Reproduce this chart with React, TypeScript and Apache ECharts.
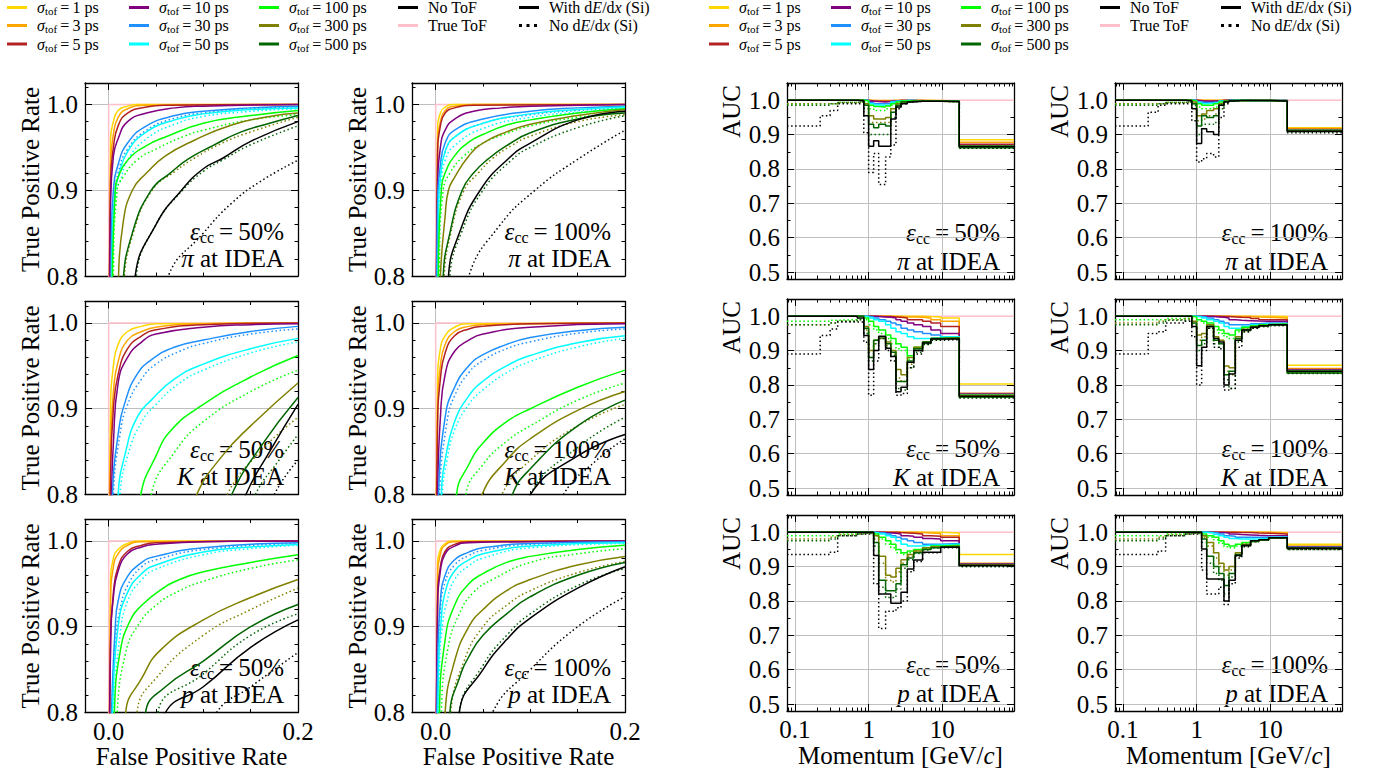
import React, { useEffect, useRef } from "react";
import * as echarts from "echarts";

const FONT = "'Liberation Serif', 'Times New Roman', Times, serif";
const INK = "#000000";
const GRID_GRAY = "#b8b8b8";
const THIN = "\u2009";

const SIGMA_LABELS = ["1", "3", "5", "10", "30", "50", "100", "300", "500"];
const SIGMA_COLORS = ["#FFD700", "#FFA500", "#B22222", "#800080", "#1E90FF", "#00FFFF", "#00FF00", "#808000", "#006400"];
const NO_TOF_COLOR = "#000000";
const TRUE_TOF_COLOR = "#FFC0CB";
const CURVE_COLORS = [...SIGMA_COLORS, NO_TOF_COLOR];
const CURVE_NAMES = [...SIGMA_LABELS.map((s) => "σtof = " + s + " ps"), "No ToF"];

// indices (into CURVE_COLORS) of the "No dE/dx" dotted curves
const ROC_DOTTED_IDX = [4, 5, 6, 7, 8, 9];
const AUC_DOTTED_IDX = [6, 7, 8, 9];

// ---------------- ROC curves: [FPR, TPR] ----------------
const ROC_TRUE_TOF = [[0, 0.6], [0, 1.0], [0.2, 1.0]];

const ROC_PI_50 = [
  [[0, 0.6], [0.002, 0.96], [0.005, 0.98], [0.01, 0.993], [0.02, 0.998], [0.03, 1.0], [0.2, 1.0]],
  [[0, 0.6], [0.002, 0.93], [0.005, 0.965], [0.01, 0.985], [0.02, 0.995], [0.04, 0.999], [0.2, 1.0]],
  [[0, 0.6], [0.002, 0.91], [0.005, 0.95], [0.01, 0.975], [0.02, 0.99], [0.04, 0.997], [0.06, 0.999], [0.2, 1.0]],
  [[0, 0.55], [0.002, 0.88], [0.005, 0.94], [0.01, 0.96], [0.02, 0.98], [0.04, 0.99], [0.07, 0.996], [0.1, 0.998], [0.2, 1.0]],
  [[0.001, 0.6], [0.003, 0.85], [0.005, 0.9], [0.01, 0.93], [0.02, 0.955], [0.04, 0.975], [0.07, 0.987], [0.1, 0.992], [0.15, 0.996], [0.2, 0.998]],
  [[0.002, 0.6], [0.004, 0.85], [0.007, 0.9], [0.01, 0.915], [0.02, 0.945], [0.04, 0.968], [0.07, 0.982], [0.1, 0.989], [0.15, 0.994], [0.2, 0.996]],
  [[0.003, 0.6], [0.004, 0.8], [0.007, 0.9], [0.01, 0.915], [0.02, 0.935], [0.04, 0.952], [0.06, 0.962], [0.1, 0.978], [0.15, 0.987], [0.2, 0.993]],
  [[0.008, 0.7], [0.01, 0.79], [0.015, 0.86], [0.025, 0.9], [0.04, 0.92], [0.06, 0.94], [0.09, 0.958], [0.13, 0.976], [0.17, 0.986], [0.2, 0.99]],
  [[0.012, 0.7], [0.015, 0.79], [0.025, 0.85], [0.045, 0.9], [0.065, 0.92], [0.085, 0.937], [0.11, 0.952], [0.14, 0.968], [0.17, 0.978], [0.2, 0.987]],
  [[0.022, 0.7], [0.028, 0.8], [0.05, 0.86], [0.077, 0.9], [0.1, 0.925], [0.12, 0.937], [0.15, 0.957], [0.2, 0.98]],
];
const ROC_PI_50_NODEDX = [
  [[0.001, 0.6], [0.003, 0.83], [0.006, 0.89], [0.01, 0.92], [0.02, 0.948], [0.04, 0.97], [0.07, 0.984], [0.1, 0.99], [0.15, 0.995], [0.2, 0.997]],
  [[0.002, 0.6], [0.005, 0.85], [0.008, 0.9], [0.012, 0.91], [0.02, 0.935], [0.04, 0.96], [0.07, 0.977], [0.1, 0.986], [0.15, 0.992], [0.2, 0.995]],
  [[0.004, 0.6], [0.005, 0.8], [0.009, 0.9], [0.015, 0.915], [0.03, 0.935], [0.05, 0.948], [0.08, 0.963], [0.1, 0.97], [0.15, 0.982], [0.2, 0.988]],
  [[0.013, 0.7], [0.016, 0.79], [0.026, 0.85], [0.046, 0.9], [0.07, 0.922], [0.09, 0.937], [0.12, 0.955], [0.15, 0.968], [0.2, 0.985]],
  [[0.023, 0.7], [0.029, 0.8], [0.05, 0.86], [0.078, 0.9], [0.1, 0.922], [0.12, 0.935], [0.15, 0.953], [0.2, 0.975]],
  [[0.055, 0.75], [0.063, 0.8], [0.1, 0.85], [0.13, 0.885], [0.16, 0.91], [0.2, 0.935]],
];

const ROC_PI_100 = [
  [[0, 0.6], [0.002, 0.97], [0.005, 0.99], [0.01, 0.997], [0.02, 1.0], [0.2, 1.0]],
  [[0, 0.6], [0.002, 0.95], [0.005, 0.98], [0.01, 0.993], [0.02, 0.998], [0.04, 1.0], [0.2, 1.0]],
  [[0, 0.6], [0.002, 0.94], [0.005, 0.975], [0.01, 0.99], [0.02, 0.996], [0.04, 0.999], [0.2, 1.0]],
  [[0, 0.6], [0.002, 0.9], [0.005, 0.95], [0.01, 0.97], [0.02, 0.983], [0.04, 0.992], [0.07, 0.996], [0.1, 0.998], [0.2, 1.0]],
  [[0, 0.6], [0.002, 0.88], [0.005, 0.93], [0.01, 0.955], [0.02, 0.97], [0.05, 0.983], [0.1, 0.992], [0.15, 0.996], [0.2, 0.998]],
  [[0.001, 0.6], [0.003, 0.88], [0.005, 0.915], [0.01, 0.945], [0.02, 0.962], [0.05, 0.978], [0.1, 0.989], [0.15, 0.994], [0.2, 0.997]],
  [[0.002, 0.6], [0.003, 0.82], [0.006, 0.9], [0.01, 0.92], [0.02, 0.94], [0.035, 0.956], [0.05, 0.965], [0.075, 0.976], [0.1, 0.982], [0.15, 0.99], [0.2, 0.995]],
  [[0.003, 0.7], [0.005, 0.8], [0.01, 0.87], [0.0135, 0.9], [0.02, 0.915], [0.035, 0.94], [0.05, 0.955], [0.075, 0.968], [0.1, 0.977], [0.15, 0.987], [0.2, 0.994]],
  [[0.006, 0.7], [0.008, 0.8], [0.015, 0.85], [0.028, 0.9], [0.04, 0.92], [0.056, 0.937], [0.075, 0.952], [0.1, 0.967], [0.15, 0.983], [0.2, 0.99]],
  [[0.01, 0.7], [0.0135, 0.8], [0.025, 0.85], [0.047, 0.9], [0.077, 0.937], [0.1, 0.955], [0.15, 0.982], [0.2, 0.992]],
];
const ROC_PI_100_NODEDX = [
  [[0, 0.6], [0.002, 0.86], [0.005, 0.92], [0.01, 0.945], [0.02, 0.962], [0.05, 0.978], [0.1, 0.988], [0.15, 0.993], [0.2, 0.996]],
  [[0.001, 0.6], [0.003, 0.86], [0.006, 0.91], [0.01, 0.935], [0.02, 0.952], [0.05, 0.972], [0.1, 0.985], [0.15, 0.991], [0.2, 0.995]],
  [[0.002, 0.6], [0.004, 0.82], [0.008, 0.9], [0.015, 0.92], [0.03, 0.94], [0.05, 0.955], [0.075, 0.966], [0.1, 0.975], [0.15, 0.985], [0.2, 0.99]],
  [[0.006, 0.7], [0.009, 0.8], [0.016, 0.85], [0.03, 0.9], [0.045, 0.92], [0.06, 0.937], [0.08, 0.952], [0.1, 0.963], [0.15, 0.98], [0.2, 0.988]],
  [[0.011, 0.7], [0.015, 0.8], [0.027, 0.85], [0.05, 0.9], [0.08, 0.935], [0.1, 0.95], [0.15, 0.973], [0.2, 0.987]],
  [[0.028, 0.75], [0.035, 0.8], [0.067, 0.858], [0.105, 0.9], [0.15, 0.936], [0.2, 0.97]],
];

const ROC_K_50 = [
  [[0, 0.6], [0.002, 0.9], [0.005, 0.95], [0.01, 0.975], [0.02, 0.99], [0.035, 0.996], [0.05, 0.999], [0.2, 1.0]],
  [[0, 0.6], [0.002, 0.85], [0.005, 0.92], [0.01, 0.955], [0.02, 0.98], [0.035, 0.99], [0.05, 0.995], [0.1, 0.999], [0.2, 1.0]],
  [[0, 0.6], [0.002, 0.82], [0.005, 0.9], [0.01, 0.94], [0.02, 0.97], [0.035, 0.985], [0.05, 0.992], [0.1, 0.998], [0.2, 1.0]],
  [[0, 0.6], [0.003, 0.8], [0.005, 0.86], [0.01, 0.93], [0.02, 0.96], [0.035, 0.978], [0.05, 0.987], [0.1, 0.995], [0.15, 0.998], [0.2, 0.999]],
  [[0.002, 0.7], [0.004, 0.8], [0.01, 0.87], [0.018, 0.91], [0.03, 0.94], [0.045, 0.957], [0.07, 0.972], [0.1, 0.98], [0.15, 0.99], [0.2, 0.996]],
  [[0.007, 0.7], [0.01, 0.8], [0.018, 0.85], [0.03, 0.89], [0.045, 0.91], [0.07, 0.935], [0.1, 0.952], [0.15, 0.97], [0.2, 0.982]],
  [[0.025, 0.7], [0.034, 0.8], [0.05, 0.845], [0.066, 0.875], [0.1, 0.905], [0.15, 0.937], [0.2, 0.962]],
  [[0.08, 0.75], [0.093, 0.8], [0.12, 0.845], [0.15, 0.88], [0.2, 0.93]],
  [[0.115, 0.75], [0.13, 0.8], [0.16, 0.855], [0.2, 0.913]],
  [[0.13, 0.75], [0.145, 0.8], [0.17, 0.85], [0.2, 0.905]],
];
const ROC_K_50_NODEDX = [
  [[0.003, 0.7], [0.005, 0.8], [0.012, 0.87], [0.02, 0.905], [0.035, 0.935], [0.05, 0.952], [0.075, 0.967], [0.1, 0.976], [0.15, 0.987], [0.2, 0.993]],
  [[0.008, 0.7], [0.012, 0.8], [0.02, 0.845], [0.035, 0.885], [0.05, 0.905], [0.075, 0.93], [0.1, 0.945], [0.15, 0.965], [0.2, 0.978]],
  [[0.035, 0.7], [0.045, 0.8], [0.07, 0.85], [0.1, 0.885], [0.15, 0.92], [0.2, 0.945]],
  [[0.11, 0.75], [0.125, 0.8], [0.16, 0.85], [0.2, 0.89]],
  [[0.14, 0.75], [0.155, 0.8], [0.18, 0.84], [0.2, 0.87]],
  [[0.16, 0.75], [0.175, 0.8], [0.2, 0.84]],
];

const ROC_K_100 = [
  [[0, 0.6], [0.002, 0.93], [0.005, 0.97], [0.01, 0.985], [0.02, 0.995], [0.035, 0.999], [0.2, 1.0]],
  [[0, 0.6], [0.002, 0.9], [0.005, 0.95], [0.01, 0.975], [0.02, 0.99], [0.035, 0.996], [0.05, 0.998], [0.2, 1.0]],
  [[0, 0.6], [0.002, 0.88], [0.005, 0.935], [0.01, 0.965], [0.02, 0.985], [0.035, 0.993], [0.05, 0.996], [0.1, 0.999], [0.2, 1.0]],
  [[0, 0.6], [0.002, 0.8], [0.005, 0.89], [0.01, 0.94], [0.02, 0.967], [0.035, 0.98], [0.05, 0.987], [0.1, 0.995], [0.2, 0.999]],
  [[0.001, 0.7], [0.003, 0.8], [0.01, 0.89], [0.02, 0.925], [0.035, 0.95], [0.05, 0.963], [0.075, 0.975], [0.1, 0.983], [0.15, 0.991], [0.2, 0.995]],
  [[0.004, 0.7], [0.006, 0.8], [0.01, 0.84], [0.02, 0.885], [0.035, 0.915], [0.05, 0.932], [0.075, 0.95], [0.1, 0.962], [0.15, 0.977], [0.2, 0.985]],
  [[0.017, 0.7], [0.022, 0.8], [0.035, 0.835], [0.05, 0.86], [0.075, 0.885], [0.1, 0.9], [0.15, 0.925], [0.2, 0.945]],
  [[0.04, 0.75], [0.049, 0.8], [0.075, 0.84], [0.1, 0.865], [0.15, 0.898], [0.2, 0.92]],
  [[0.07, 0.75], [0.081, 0.8], [0.1, 0.83], [0.15, 0.88], [0.2, 0.91]],
  [[0.088, 0.75], [0.1, 0.8], [0.15, 0.845], [0.2, 0.87]],
];
const ROC_K_100_NODEDX = [
  [[0.002, 0.7], [0.004, 0.8], [0.012, 0.885], [0.02, 0.915], [0.035, 0.942], [0.05, 0.956], [0.075, 0.97], [0.1, 0.978], [0.15, 0.988], [0.2, 0.993]],
  [[0.005, 0.7], [0.007, 0.8], [0.012, 0.84], [0.02, 0.875], [0.035, 0.905], [0.05, 0.922], [0.075, 0.942], [0.1, 0.955], [0.15, 0.972], [0.2, 0.982]],
  [[0.025, 0.7], [0.032, 0.8], [0.05, 0.835], [0.075, 0.862], [0.1, 0.88], [0.15, 0.91], [0.2, 0.93]],
  [[0.06, 0.75], [0.07, 0.8], [0.1, 0.84], [0.15, 0.88], [0.2, 0.905]],
  [[0.09, 0.75], [0.1, 0.8], [0.15, 0.855], [0.2, 0.89]],
  [[0.12, 0.75], [0.135, 0.8], [0.17, 0.84], [0.2, 0.865]],
];

const ROC_P_50 = [
  [[0, 0.6], [0.002, 0.95], [0.005, 0.98], [0.01, 0.99], [0.02, 0.997], [0.035, 1.0], [0.2, 1.0]],
  [[0, 0.6], [0.002, 0.93], [0.005, 0.97], [0.01, 0.985], [0.02, 0.995], [0.035, 0.999], [0.2, 1.0]],
  [[0, 0.6], [0.002, 0.88], [0.005, 0.94], [0.01, 0.97], [0.02, 0.988], [0.035, 0.995], [0.05, 0.998], [0.2, 1.0]],
  [[0, 0.6], [0.002, 0.88], [0.005, 0.935], [0.01, 0.965], [0.02, 0.985], [0.035, 0.993], [0.05, 0.996], [0.1, 0.999], [0.2, 1.0]],
  [[0.001, 0.7], [0.003, 0.8], [0.007, 0.9], [0.01, 0.93], [0.018, 0.955], [0.035, 0.975], [0.05, 0.982], [0.1, 0.992], [0.2, 0.998]],
  [[0.002, 0.7], [0.004, 0.8], [0.01, 0.9], [0.02, 0.94], [0.035, 0.962], [0.05, 0.972], [0.1, 0.987], [0.15, 0.993], [0.2, 0.996]],
  [[0.004, 0.7], [0.006, 0.8], [0.012, 0.87], [0.023, 0.908], [0.035, 0.925], [0.055, 0.943], [0.075, 0.955], [0.1, 0.964], [0.15, 0.975], [0.2, 0.984]],
  [[0.014, 0.7], [0.018, 0.8], [0.035, 0.84], [0.055, 0.873], [0.1, 0.908], [0.15, 0.934], [0.2, 0.955]],
  [[0.033, 0.7], [0.039, 0.8], [0.06, 0.83], [0.1, 0.86], [0.15, 0.9], [0.2, 0.926]],
  [[0.05, 0.75], [0.06, 0.8], [0.1, 0.83], [0.15, 0.876], [0.2, 0.908]],
];
const ROC_P_50_NODEDX = [
  [[0.001, 0.7], [0.003, 0.8], [0.008, 0.89], [0.012, 0.92], [0.02, 0.948], [0.035, 0.97], [0.05, 0.978], [0.1, 0.99], [0.2, 0.997]],
  [[0.002, 0.7], [0.005, 0.8], [0.012, 0.89], [0.02, 0.93], [0.035, 0.955], [0.05, 0.967], [0.1, 0.984], [0.15, 0.991], [0.2, 0.995]],
  [[0.006, 0.7], [0.009, 0.8], [0.018, 0.87], [0.03, 0.9], [0.05, 0.925], [0.075, 0.942], [0.1, 0.953], [0.15, 0.968], [0.2, 0.978]],
  [[0.025, 0.7], [0.03, 0.8], [0.05, 0.84], [0.1, 0.89], [0.15, 0.92], [0.2, 0.945]],
  [[0.045, 0.7], [0.052, 0.8], [0.1, 0.845], [0.15, 0.89], [0.2, 0.915]],
  [[0.1, 0.75], [0.114, 0.8], [0.15, 0.83], [0.2, 0.87]],
];

const ROC_P_100 = [
  [[0, 0.6], [0.002, 0.97], [0.005, 0.99], [0.01, 0.997], [0.02, 1.0], [0.2, 1.0]],
  [[0, 0.6], [0.002, 0.955], [0.005, 0.985], [0.01, 0.995], [0.02, 0.999], [0.2, 1.0]],
  [[0, 0.6], [0.002, 0.93], [0.005, 0.97], [0.01, 0.988], [0.02, 0.996], [0.035, 0.999], [0.2, 1.0]],
  [[0, 0.6], [0.002, 0.92], [0.005, 0.965], [0.01, 0.985], [0.02, 0.994], [0.035, 0.998], [0.2, 1.0]],
  [[0, 0.6], [0.002, 0.85], [0.005, 0.93], [0.01, 0.96], [0.02, 0.978], [0.035, 0.987], [0.05, 0.992], [0.1, 0.997], [0.2, 0.999]],
  [[0.001, 0.6], [0.003, 0.85], [0.006, 0.91], [0.01, 0.94], [0.02, 0.965], [0.035, 0.978], [0.05, 0.985], [0.1, 0.994], [0.2, 0.998]],
  [[0.002, 0.6], [0.004, 0.8], [0.01, 0.885], [0.02, 0.925], [0.035, 0.95], [0.05, 0.962], [0.075, 0.975], [0.1, 0.982], [0.15, 0.99], [0.2, 0.995]],
  [[0.007, 0.7], [0.01, 0.8], [0.02, 0.86], [0.035, 0.9], [0.05, 0.92], [0.075, 0.942], [0.1, 0.955], [0.15, 0.972], [0.2, 0.982]],
  [[0.012, 0.7], [0.015, 0.8], [0.025, 0.84], [0.035, 0.865], [0.05, 0.89], [0.075, 0.915], [0.1, 0.935], [0.15, 0.96], [0.2, 0.975]],
  [[0.02, 0.7], [0.025, 0.8], [0.05, 0.85], [0.075, 0.885], [0.1, 0.91], [0.15, 0.945], [0.2, 0.97]],
];
const ROC_P_100_NODEDX = [
  [[0, 0.6], [0.002, 0.83], [0.005, 0.92], [0.01, 0.952], [0.02, 0.972], [0.035, 0.983], [0.05, 0.989], [0.1, 0.996], [0.2, 0.999]],
  [[0.001, 0.6], [0.004, 0.85], [0.007, 0.9], [0.012, 0.93], [0.02, 0.955], [0.035, 0.971], [0.05, 0.98], [0.1, 0.992], [0.2, 0.997]],
  [[0.003, 0.6], [0.006, 0.8], [0.013, 0.875], [0.025, 0.915], [0.04, 0.94], [0.06, 0.955], [0.1, 0.975], [0.15, 0.985], [0.2, 0.991]],
  [[0.012, 0.7], [0.016, 0.8], [0.03, 0.86], [0.05, 0.9], [0.075, 0.925], [0.1, 0.942], [0.15, 0.963], [0.2, 0.976]],
  [[0.02, 0.7], [0.025, 0.8], [0.05, 0.855], [0.075, 0.89], [0.1, 0.915], [0.15, 0.948], [0.2, 0.968]],
  [[0.05, 0.75], [0.06, 0.8], [0.1, 0.85], [0.15, 0.9], [0.2, 0.935]],
];

// ---------------- AUC vs momentum (bin edges in GeV/c) ----------------
const MOMENTUM_EDGES = [0.078, 0.22, 0.3, 0.38, 0.7, 0.86, 1.0, 1.17, 1.37, 1.7, 2.0, 2.35, 2.75, 3.35, 4.1, 5.4, 7.0, 9.5, 17, 94];
const AUC_TRUE_TOF = [1, 1, 1, 1, 1, 1, 1, 1, 1, 1, 1, 1, 1, 1, 1, 1, 1, 1, 1];

const AUC_PI_50 = [
  [1, 1, 1, 1, 1, 1, 0.999, 0.999, 0.999, 0.999, 0.999, 0.999, 0.999, 0.999, 0.999, 0.999, 0.999, 0.998, 0.885],
  [1, 1, 1, 1, 1, 1, 0.999, 0.998, 0.998, 0.998, 0.999, 0.999, 0.999, 0.999, 0.999, 0.999, 0.998, 0.997, 0.878],
  [1, 1, 1, 1, 1, 1, 0.998, 0.997, 0.997, 0.997, 0.998, 0.999, 0.999, 0.999, 0.999, 0.998, 0.998, 0.997, 0.872],
  [1, 1, 1, 1, 1, 1, 0.997, 0.996, 0.995, 0.996, 0.998, 0.999, 0.999, 0.999, 0.998, 0.998, 0.998, 0.997, 0.868],
  [1, 1, 1, 1, 1, 1, 0.993, 0.99, 0.99, 0.991, 0.996, 0.998, 0.999, 0.999, 0.998, 0.998, 0.998, 0.997, 0.867],
  [1, 1, 1, 1, 1, 0.999, 0.99, 0.986, 0.985, 0.987, 0.994, 0.997, 0.999, 0.999, 0.998, 0.998, 0.997, 0.997, 0.866],
  [1, 1, 1, 1, 1, 0.998, 0.985, 0.982, 0.98, 0.983, 0.99, 0.995, 0.998, 0.998, 0.998, 0.998, 0.997, 0.997, 0.866],
  [1, 1, 1, 1, 1, 0.99, 0.955, 0.945, 0.945, 0.95, 0.975, 0.99, 0.995, 0.997, 0.997, 0.997, 0.997, 0.996, 0.866],
  [1, 1, 1, 1, 1, 0.985, 0.93, 0.92, 0.93, 0.925, 0.965, 0.985, 0.995, 0.997, 0.997, 0.997, 0.997, 0.996, 0.862],
  [1, 1, 1, 1, 0.998, 0.955, 0.866, 0.882, 0.866, 0.866, 0.945, 0.98, 0.99, 0.995, 0.997, 0.997, 0.997, 0.996, 0.865],
];
const AUC_PI_50_NODEDX = [
  [0.99, 0.99, 0.99, 0.993, 0.995, 0.995, 0.975, 0.97, 0.97, 0.975, 0.985, 0.993, 0.997, 0.998, 0.997, 0.997, 0.997, 0.996, 0.865],
  [0.99, 0.99, 0.99, 0.993, 0.995, 0.985, 0.935, 0.935, 0.935, 0.935, 0.965, 0.985, 0.995, 0.997, 0.997, 0.997, 0.997, 0.996, 0.865],
  [0.985, 0.985, 0.99, 0.993, 0.995, 0.975, 0.9, 0.9, 0.9, 0.9, 0.95, 0.98, 0.993, 0.997, 0.997, 0.997, 0.997, 0.996, 0.862],
  [0.925, 0.955, 0.97, 0.99, 0.99, 0.905, 0.79, 0.845, 0.755, 0.835, 0.87, 0.975, 0.99, 0.995, 0.997, 0.997, 0.997, 0.996, 0.86],
];

const AUC_PI_100 = [
  [1, 1, 1, 1, 1, 1, 1, 1, 1, 1, 1, 1, 1, 1, 1, 1, 1, 0.999, 0.92],
  [1, 1, 1, 1, 1, 1, 0.999, 0.999, 0.999, 0.999, 1, 1, 1, 1, 1, 1, 1, 0.999, 0.918],
  [1, 1, 1, 1, 1, 1, 0.999, 0.998, 0.998, 0.998, 0.999, 1, 1, 1, 1, 1, 0.999, 0.999, 0.915],
  [1, 1, 1, 1, 1, 1, 0.998, 0.997, 0.997, 0.998, 0.999, 1, 1, 1, 1, 0.999, 0.999, 0.999, 0.913],
  [1, 1, 1, 1, 1, 1, 0.995, 0.993, 0.994, 0.995, 0.998, 0.999, 1, 1, 0.999, 0.999, 0.999, 0.999, 0.912],
  [1, 1, 1, 1, 1, 0.999, 0.993, 0.99, 0.991, 0.993, 0.997, 0.999, 1, 1, 0.999, 0.999, 0.999, 0.999, 0.912],
  [1, 1, 1, 1, 1, 0.998, 0.99, 0.985, 0.985, 0.99, 0.995, 0.998, 0.999, 0.999, 0.999, 0.999, 0.999, 0.998, 0.912],
  [1, 1, 1, 1, 1, 0.995, 0.955, 0.96, 0.97, 0.975, 0.99, 0.997, 0.999, 0.999, 0.999, 0.999, 0.999, 0.998, 0.912],
  [1, 1, 1, 1, 1, 0.99, 0.925, 0.955, 0.95, 0.955, 0.985, 0.996, 0.999, 0.999, 0.999, 0.999, 0.999, 0.998, 0.91],
  [1, 1, 1, 1, 0.998, 0.975, 0.874, 0.917, 0.908, 0.9, 0.985, 0.995, 0.998, 0.999, 0.999, 0.999, 0.999, 0.998, 0.91],
];
const AUC_PI_100_NODEDX = [
  [0.99, 0.99, 0.99, 0.993, 0.995, 0.995, 0.98, 0.975, 0.975, 0.98, 0.99, 0.997, 0.999, 0.999, 0.999, 0.999, 0.999, 0.998, 0.91],
  [0.99, 0.99, 0.99, 0.993, 0.995, 0.99, 0.94, 0.945, 0.955, 0.96, 0.985, 0.996, 0.999, 0.999, 0.999, 0.999, 0.999, 0.998, 0.91],
  [0.985, 0.985, 0.99, 0.993, 0.995, 0.985, 0.9, 0.93, 0.93, 0.935, 0.975, 0.995, 0.999, 0.999, 0.999, 0.999, 0.999, 0.998, 0.908],
  [0.925, 0.965, 0.985, 0.99, 0.99, 0.94, 0.82, 0.83, 0.845, 0.835, 0.95, 0.99, 0.997, 0.999, 0.999, 0.999, 0.999, 0.998, 0.905],
];

const AUC_K_50 = [
  [1, 1, 1, 1, 1, 1, 1, 1, 1, 1, 1, 1, 1, 1, 1, 0.999, 0.998, 0.995, 0.803],
  [1, 1, 1, 1, 1, 1, 1, 1, 1, 1, 0.999, 0.999, 0.998, 0.998, 0.997, 0.995, 0.99, 0.985, 0.775],
  [1, 1, 1, 1, 1, 1, 1, 1, 0.999, 0.999, 0.998, 0.997, 0.995, 0.99, 0.99, 0.985, 0.98, 0.97, 0.775],
  [1, 1, 1, 1, 1, 1, 1, 0.999, 0.998, 0.997, 0.995, 0.99, 0.985, 0.98, 0.975, 0.97, 0.96, 0.95, 0.772],
  [1, 1, 1, 1, 1, 1, 0.998, 0.995, 0.99, 0.985, 0.98, 0.975, 0.965, 0.96, 0.955, 0.95, 0.945, 0.94, 0.772],
  [1, 1, 1, 1, 1, 0.999, 0.995, 0.99, 0.985, 0.975, 0.965, 0.955, 0.95, 0.94, 0.935, 0.935, 0.937, 0.94, 0.77],
  [1, 1, 1, 1, 1, 0.995, 0.985, 0.97, 0.96, 0.945, 0.935, 0.92, 0.91, 0.885, 0.91, 0.925, 0.935, 0.937, 0.77],
  [1, 1, 1, 1, 1, 0.97, 0.9, 0.93, 0.94, 0.925, 0.9, 0.845, 0.83, 0.88, 0.91, 0.925, 0.935, 0.937, 0.77],
  [1, 1, 1, 1, 1, 0.965, 0.88, 0.93, 0.94, 0.92, 0.895, 0.81, 0.81, 0.87, 0.905, 0.925, 0.935, 0.936, 0.765],
  [1, 1, 1, 1, 0.995, 0.944, 0.845, 0.9, 0.942, 0.907, 0.883, 0.78, 0.793, 0.866, 0.9, 0.922, 0.934, 0.934, 0.767],
];
const AUC_K_50_NODEDX = [
  [0.985, 0.985, 0.988, 0.99, 0.993, 0.99, 0.975, 0.96, 0.95, 0.935, 0.92, 0.905, 0.9, 0.875, 0.905, 0.92, 0.932, 0.935, 0.765],
  [0.975, 0.975, 0.98, 0.985, 0.99, 0.96, 0.88, 0.92, 0.935, 0.915, 0.89, 0.82, 0.81, 0.86, 0.9, 0.92, 0.932, 0.935, 0.765],
  [0.975, 0.975, 0.98, 0.985, 0.99, 0.95, 0.87, 0.92, 0.935, 0.91, 0.885, 0.79, 0.785, 0.85, 0.895, 0.92, 0.932, 0.934, 0.763],
  [0.89, 0.944, 0.963, 0.983, 0.983, 0.924, 0.77, 0.87, 0.935, 0.9, 0.87, 0.77, 0.775, 0.85, 0.89, 0.918, 0.93, 0.932, 0.763],
];

const AUC_K_100 = [
  [1, 1, 1, 1, 1, 1, 1, 1, 1, 1, 1, 1, 1, 1, 1, 1, 1, 0.999, 0.857],
  [1, 1, 1, 1, 1, 1, 1, 1, 1, 1, 1, 1, 1, 0.999, 0.999, 0.998, 0.997, 0.995, 0.848],
  [1, 1, 1, 1, 1, 1, 1, 1, 1, 1, 0.999, 0.999, 0.998, 0.997, 0.996, 0.993, 0.99, 0.99, 0.845],
  [1, 1, 1, 1, 1, 1, 1, 1, 0.999, 0.998, 0.997, 0.995, 0.99, 0.988, 0.987, 0.986, 0.985, 0.985, 0.843],
  [1, 1, 1, 1, 1, 1, 0.999, 0.998, 0.995, 0.99, 0.985, 0.98, 0.975, 0.975, 0.975, 0.978, 0.98, 0.98, 0.842],
  [1, 1, 1, 1, 1, 1, 0.998, 0.995, 0.99, 0.985, 0.98, 0.97, 0.965, 0.965, 0.97, 0.975, 0.977, 0.978, 0.84],
  [1, 1, 1, 1, 1, 0.998, 0.99, 0.985, 0.98, 0.97, 0.96, 0.95, 0.945, 0.96, 0.968, 0.972, 0.975, 0.977, 0.84],
  [1, 1, 1, 1, 1, 0.985, 0.945, 0.95, 0.975, 0.94, 0.93, 0.855, 0.85, 0.94, 0.962, 0.97, 0.973, 0.976, 0.84],
  [1, 1, 1, 1, 1, 0.98, 0.915, 0.93, 0.97, 0.93, 0.92, 0.83, 0.84, 0.935, 0.96, 0.968, 0.972, 0.975, 0.835],
  [1, 1, 1, 1, 1, 0.97, 0.856, 0.91, 0.97, 0.935, 0.925, 0.8, 0.832, 0.93, 0.96, 0.968, 0.972, 0.975, 0.84],
];
const AUC_K_100_NODEDX = [
  [0.99, 0.99, 0.99, 0.993, 0.995, 0.995, 0.985, 0.98, 0.975, 0.96, 0.95, 0.94, 0.935, 0.955, 0.965, 0.97, 0.973, 0.975, 0.835],
  [0.98, 0.98, 0.985, 0.99, 0.993, 0.98, 0.93, 0.94, 0.97, 0.93, 0.92, 0.84, 0.83, 0.93, 0.958, 0.967, 0.971, 0.974, 0.835],
  [0.975, 0.975, 0.98, 0.988, 0.99, 0.975, 0.9, 0.92, 0.965, 0.92, 0.91, 0.815, 0.79, 0.925, 0.955, 0.965, 0.97, 0.973, 0.833],
  [0.89, 0.95, 0.955, 0.98, 0.985, 0.94, 0.8, 0.9, 0.965, 0.91, 0.905, 0.785, 0.79, 0.91, 0.955, 0.965, 0.97, 0.973, 0.835],
];

const AUC_P_50 = [
  [1, 1, 1, 1, 1, 1, 1, 1, 1, 1, 1, 1, 1, 1, 1, 1, 1, 0.998, 0.935],
  [1, 1, 1, 1, 1, 1, 1, 1, 1, 1, 1, 1, 1, 1, 0.999, 0.998, 0.996, 0.99, 0.91],
  [1, 1, 1, 1, 1, 1, 1, 1, 1, 1, 1, 0.999, 0.998, 0.997, 0.995, 0.99, 0.988, 0.985, 0.908],
  [1, 1, 1, 1, 1, 1, 1, 1, 0.999, 0.998, 0.997, 0.995, 0.99, 0.988, 0.985, 0.982, 0.98, 0.975, 0.907],
  [1, 1, 1, 1, 1, 1, 1, 0.999, 0.998, 0.995, 0.99, 0.985, 0.98, 0.975, 0.97, 0.965, 0.965, 0.967, 0.906],
  [1, 1, 1, 1, 1, 1, 1, 0.998, 0.995, 0.99, 0.985, 0.975, 0.965, 0.96, 0.96, 0.962, 0.963, 0.965, 0.905],
  [1, 1, 1, 1, 1, 1, 1, 0.995, 0.985, 0.975, 0.965, 0.95, 0.94, 0.945, 0.95, 0.955, 0.96, 0.962, 0.905],
  [1, 1, 1, 1, 1, 1, 1, 0.99, 0.93, 0.875, 0.87, 0.895, 0.92, 0.935, 0.945, 0.955, 0.958, 0.96, 0.905],
  [1, 1, 1, 1, 1, 1, 1, 0.97, 0.86, 0.83, 0.83, 0.85, 0.905, 0.925, 0.94, 0.95, 0.955, 0.958, 0.903],
  [1, 1, 1, 1, 1, 1, 1, 0.932, 0.82, 0.82, 0.793, 0.793, 0.825, 0.893, 0.919, 0.942, 0.942, 0.956, 0.903],
];
const AUC_P_50_NODEDX = [
  [0.99, 0.99, 0.99, 0.995, 0.997, 0.998, 0.998, 0.99, 0.98, 0.965, 0.955, 0.94, 0.935, 0.94, 0.948, 0.953, 0.958, 0.96, 0.903],
  [0.98, 0.98, 0.985, 0.993, 0.996, 0.998, 0.997, 0.98, 0.91, 0.86, 0.855, 0.885, 0.91, 0.93, 0.943, 0.953, 0.957, 0.958, 0.903],
  [0.975, 0.975, 0.98, 0.99, 0.995, 0.997, 0.996, 0.96, 0.84, 0.81, 0.81, 0.835, 0.895, 0.92, 0.938, 0.948, 0.954, 0.957, 0.9],
  [0.935, 0.935, 0.942, 0.99, 0.995, 0.995, 0.995, 0.85, 0.72, 0.77, 0.77, 0.78, 0.8, 0.885, 0.915, 0.94, 0.94, 0.955, 0.9],
];

const AUC_P_100 = [
  [1, 1, 1, 1, 1, 1, 1, 1, 1, 1, 1, 1, 1, 1, 1, 1, 1, 0.999, 0.965],
  [1, 1, 1, 1, 1, 1, 1, 1, 1, 1, 1, 1, 1, 1, 1, 1, 0.999, 0.998, 0.96],
  [1, 1, 1, 1, 1, 1, 1, 1, 1, 1, 1, 1, 1, 0.999, 0.999, 0.998, 0.997, 0.995, 0.958],
  [1, 1, 1, 1, 1, 1, 1, 1, 1, 0.999, 0.999, 0.998, 0.995, 0.993, 0.992, 0.991, 0.99, 0.99, 0.957],
  [1, 1, 1, 1, 1, 1, 1, 1, 0.999, 0.998, 0.995, 0.99, 0.988, 0.985, 0.985, 0.985, 0.985, 0.986, 0.956],
  [1, 1, 1, 1, 1, 1, 1, 1, 0.998, 0.993, 0.99, 0.985, 0.982, 0.98, 0.98, 0.98, 0.982, 0.985, 0.955],
  [1, 1, 1, 1, 1, 1, 1, 0.995, 0.99, 0.985, 0.975, 0.965, 0.96, 0.965, 0.97, 0.975, 0.978, 0.984, 0.955],
  [1, 1, 1, 1, 1, 1, 1, 0.99, 0.97, 0.94, 0.91, 0.89, 0.9, 0.94, 0.965, 0.975, 0.978, 0.984, 0.955],
  [1, 1, 1, 1, 1, 1, 1, 0.98, 0.93, 0.9, 0.88, 0.845, 0.88, 0.935, 0.962, 0.975, 0.978, 0.984, 0.953],
  [1, 1, 1, 1, 1, 1, 1, 0.951, 0.864, 0.864, 0.864, 0.8, 0.86, 0.932, 0.961, 0.975, 0.978, 0.984, 0.953],
];
const AUC_P_100_NODEDX = [
  [0.99, 0.99, 0.99, 0.995, 0.997, 0.998, 0.998, 0.99, 0.985, 0.978, 0.968, 0.958, 0.955, 0.96, 0.968, 0.973, 0.977, 0.983, 0.952],
  [0.98, 0.98, 0.985, 0.993, 0.996, 0.998, 0.997, 0.985, 0.96, 0.925, 0.9, 0.875, 0.89, 0.935, 0.962, 0.973, 0.977, 0.983, 0.952],
  [0.975, 0.975, 0.98, 0.99, 0.995, 0.997, 0.996, 0.97, 0.91, 0.88, 0.86, 0.82, 0.87, 0.93, 0.96, 0.972, 0.977, 0.983, 0.95],
  [0.935, 0.935, 0.945, 0.99, 0.995, 0.995, 0.995, 0.89, 0.82, 0.82, 0.84, 0.79, 0.85, 0.925, 0.958, 0.972, 0.977, 0.983, 0.95],
];

// ---------------- axis ticks ----------------
const ROC_X_RANGE = [-0.025, 0.2];
const ROC_Y_RANGE = [0.8, 1.025];
const ROC_X_MAJOR = [0, 0.2];
const ROC_X_MINOR = [0.05, 0.1, 0.15];
const ROC_Y_MAJOR = [0.8, 0.9, 1.0];
const ROC_Y_MINOR = [0.82, 0.84, 0.86, 0.88, 0.92, 0.94, 0.96, 0.98, 1.02];
const AUC_X_RANGE = [0.078, 94];
const AUC_Y_RANGE = [0.48, 1.05];
const AUC_X_MAJOR = [0.1, 1, 10];
const AUC_X_MINOR = [0.08, 0.09, 0.2, 0.3, 0.4, 0.5, 0.6, 0.7, 0.8, 0.9, 2, 3, 4, 5, 6, 7, 8, 9, 20, 30, 40, 50, 60, 70, 80, 90];
const AUC_Y_MAJOR = [0.5, 0.6, 0.7, 0.8, 0.9, 1.0];
const AUC_Y_MINOR = [0.55, 0.65, 0.75, 0.85, 0.95];

// ---------------- layout ----------------
const ROC_LEFT = [85, 412];
const ROC_TOP = [83, 301.5, 519.5];
const ROC_W = 213;
const ROC_H = 193;
const AUC_LEFT = [787, 1115];
const AUC_TOP = [83, 299, 515];
const AUC_W = 227;
const AUC_H = 196;

const PANELS = [
  { kind: "roc", row: 0, col: 0, particle: "π", eff: "50%", solid: ROC_PI_50, dotted: ROC_PI_50_NODEDX },
  { kind: "roc", row: 0, col: 1, particle: "π", eff: "100%", solid: ROC_PI_100, dotted: ROC_PI_100_NODEDX },
  { kind: "roc", row: 1, col: 0, particle: "K", eff: "50%", solid: ROC_K_50, dotted: ROC_K_50_NODEDX },
  { kind: "roc", row: 1, col: 1, particle: "K", eff: "100%", solid: ROC_K_100, dotted: ROC_K_100_NODEDX },
  { kind: "roc", row: 2, col: 0, particle: "p", eff: "50%", solid: ROC_P_50, dotted: ROC_P_50_NODEDX },
  { kind: "roc", row: 2, col: 1, particle: "p", eff: "100%", solid: ROC_P_100, dotted: ROC_P_100_NODEDX },
  { kind: "auc", row: 0, col: 0, particle: "π", eff: "50%", solid: AUC_PI_50, dotted: AUC_PI_50_NODEDX },
  { kind: "auc", row: 0, col: 1, particle: "π", eff: "100%", solid: AUC_PI_100, dotted: AUC_PI_100_NODEDX },
  { kind: "auc", row: 1, col: 0, particle: "K", eff: "50%", solid: AUC_K_50, dotted: AUC_K_50_NODEDX },
  { kind: "auc", row: 1, col: 1, particle: "K", eff: "100%", solid: AUC_K_100, dotted: AUC_K_100_NODEDX },
  { kind: "auc", row: 2, col: 0, particle: "p", eff: "50%", solid: AUC_P_50, dotted: AUC_P_50_NODEDX },
  { kind: "auc", row: 2, col: 1, particle: "p", eff: "100%", solid: AUC_P_100, dotted: AUC_P_100_NODEDX },
];

// legend layout
const LEGEND_LINE_X = [7, 129, 259, 398, 519];
const LEGEND_ROW_Y = [7.5, 25.5, 44];
const LEGEND_SHIFT = [0, 702];

const DOT_DASH = [1.5, 2.6];

function stepData(vals: number[]) {
  const pts = vals.map((v, i) => [MOMENTUM_EDGES[i], v]);
  pts.push([MOMENTUM_EDGES[vals.length], vals[vals.length - 1]]);
  return pts;
}

function panelRect(p: any) {
  if (p.kind === "roc") return { left: ROC_LEFT[p.col], top: ROC_TOP[p.row], width: ROC_W, height: ROC_H };
  return { left: AUC_LEFT[p.col], top: AUC_TOP[p.row], width: AUC_W, height: AUC_H };
}

const labelFont = { fontFamily: FONT, fontSize: 25, color: INK };

function buildAxes(g: number, p: any) {
  const roc = p.kind === "roc";
  const bottomRow = p.row === 2;
  const xBase: any = roc
    ? { type: "value", min: ROC_X_RANGE[0], max: ROC_X_RANGE[1] }
    : { type: "log", logBase: 10, min: AUC_X_RANGE[0], max: AUC_X_RANGE[1] };
  const yBase: any = roc
    ? { type: "value", min: ROC_Y_RANGE[0], max: ROC_Y_RANGE[1] }
    : { type: "value", min: AUC_Y_RANGE[0], max: AUC_Y_RANGE[1] };
  const xMajor = roc ? ROC_X_MAJOR : AUC_X_MAJOR;
  const xMinor = roc ? ROC_X_MINOR : AUC_X_MINOR;
  const yMajor = roc ? ROC_Y_MAJOR : AUC_Y_MAJOR;
  const yMinor = roc ? ROC_Y_MINOR : AUC_Y_MINOR;
  const frame = { show: true, onZero: false, lineStyle: { color: INK, width: 1.3 } };
  const noLine = { show: false, onZero: false };
  const tickLine = { color: INK, width: 1 };
  const major = (vals: number[]) => ({ show: true, inside: true, length: 7, customValues: vals, lineStyle: tickLine });
  const minor = (vals: number[]) => ({ show: true, inside: true, length: 3.5, customValues: vals, lineStyle: tickLine });
  const grid = { show: true, lineStyle: { color: GRID_GRAY, width: 0.9 } };
  const off = { show: false };
  const xFmt = roc ? (v: number) => v.toFixed(1) : (v: number) => String(v);
  const xs = [
    {
      gridIndex: g, ...xBase, position: "bottom", axisLine: frame, axisTick: major(xMajor),
      axisLabel: { show: bottomRow, customValues: xMajor, formatter: xFmt, margin: 6, ...labelFont },
      splitLine: grid,
      name: bottomRow ? (roc ? "False Positive Rate" : "Momentum [GeV/{i|c}]") : "",
      nameLocation: "middle", nameGap: 31,
      nameTextStyle: { ...labelFont, rich: { i: { ...labelFont, fontStyle: "italic" } } },
    },
    { gridIndex: g, ...xBase, position: "bottom", axisLine: noLine, axisTick: minor(xMinor), axisLabel: off, splitLine: off },
    { gridIndex: g, ...xBase, position: "top", axisLine: frame, axisTick: major(xMajor), axisLabel: off, splitLine: off },
    { gridIndex: g, ...xBase, position: "top", axisLine: noLine, axisTick: minor(xMinor), axisLabel: off, splitLine: off },
  ];
  const ys = [
    {
      gridIndex: g, ...yBase, position: "left", axisLine: frame, axisTick: major(yMajor),
      axisLabel: { show: true, customValues: yMajor, formatter: (v: number) => v.toFixed(1), margin: 7, ...labelFont },
      splitLine: grid,
      name: roc ? "True Positive Rate" : "",
      nameLocation: "middle", nameGap: 42,
      nameTextStyle: { ...labelFont },
    },
    { gridIndex: g, ...yBase, position: "left", axisLine: noLine, axisTick: minor(yMinor), axisLabel: off, splitLine: off },
    { gridIndex: g, ...yBase, position: "right", axisLine: frame, axisTick: major(yMajor), axisLabel: off, splitLine: off },
    { gridIndex: g, ...yBase, position: "right", axisLine: noLine, axisTick: minor(yMinor), axisLabel: off, splitLine: off },
  ];
  return { xs, ys };
}

function buildSeries(g: number, p: any) {
  const roc = p.kind === "roc";
  const out: any[] = [];
  const common = { xAxisIndex: g * 4, yAxisIndex: g * 4, showSymbol: false, symbol: "none", clip: true, silent: true };
  out.push({
    ...common, type: "line", name: "True ToF",
    data: roc ? ROC_TRUE_TOF : stepData(AUC_TRUE_TOF),
    step: roc ? undefined : "end",
    lineStyle: { color: TRUE_TOF_COLOR, width: 1.5 }, z: 2,
  });
  const dIdx = roc ? ROC_DOTTED_IDX : AUC_DOTTED_IDX;
  p.dotted.forEach((c: any, j: number) => {
    const ci = dIdx[j];
    out.push({
      ...common, type: "line", name: CURVE_NAMES[ci] + " (no dE/dx)",
      data: roc ? c : stepData(c),
      smooth: roc ? 0.5 : false,
      step: roc ? undefined : "end",
      lineStyle: { color: CURVE_COLORS[ci], width: 1.5, type: DOT_DASH }, z: 3,
    });
  });
  p.solid.forEach((c: any, ci: number) => {
    out.push({
      ...common, type: "line", name: CURVE_NAMES[ci],
      data: roc ? c : stepData(c),
      smooth: roc ? 0.5 : false,
      step: roc ? undefined : "end",
      lineStyle: { color: CURVE_COLORS[ci], width: 1.5 }, z: 4,
    });
  });
  return out;
}

const annRich = {
  i: { fontFamily: FONT, fontSize: 25, fontStyle: "italic", lineHeight: 28, fill: INK, color: INK },
  s: { fontFamily: FONT, fontSize: 16, lineHeight: 12, verticalAlign: "bottom", fill: INK, color: INK },
  n: { fontFamily: FONT, fontSize: 25, lineHeight: 28, fill: INK, color: INK },
};

function textEl(x: number, y: number, text: string, rich: any, align: string, extra: any = {}) {
  return {
    type: "text", x, y, silent: true, ...extra,
    style: {
      text, rich, fontFamily: FONT, fontSize: 25, fill: INK,
      align, textAlign: align, verticalAlign: "middle", textVerticalAlign: "middle",
    },
  };
}

function buildGraphics() {
  const els: any[] = [];
  PANELS.forEach((p) => {
    const r = panelRect(p);
    const right = r.left + r.width - 14;
    const bottom = r.top + r.height;
    const off1 = p.kind === "roc" ? 45 : 47;
    els.push(textEl(right, bottom - off1, "{i|ε}{s|cc}{n|" + THIN + "=" + THIN + p.eff + "}", annRich, "right"));
    els.push(textEl(right, bottom - 18, "{i|" + p.particle + "}{n| at IDEA}", annRich, "right"));
    if (p.kind === "auc") {
      els.push({
        type: "text", x: r.left - 56, y: r.top + 2, rotation: Math.PI / 2, silent: true,
        style: { text: "AUC", fontFamily: FONT, fontSize: 25, fill: INK, align: "right", textAlign: "right", verticalAlign: "middle", textVerticalAlign: "middle" },
      });
    }
  });
  const legRich = {
    i: { fontFamily: FONT, fontSize: 16, fontStyle: "italic", lineHeight: 18, fill: INK, color: INK },
    s: { fontFamily: FONT, fontSize: 11, lineHeight: 8, verticalAlign: "bottom", fill: INK, color: INK },
    n: { fontFamily: FONT, fontSize: 16, lineHeight: 18, fill: INK, color: INK },
  };
  const entries: any[] = [];
  SIGMA_LABELS.forEach((s, k) => {
    entries.push({ col: Math.floor(k / 3), row: k % 3, color: SIGMA_COLORS[k], dash: null, text: "{i|σ}{s|tof}{n|" + THIN + "=" + THIN + s + " ps}" });
  });
  entries.push({ col: 3, row: 0, color: NO_TOF_COLOR, dash: null, text: "{n|No ToF}" });
  entries.push({ col: 3, row: 1, color: TRUE_TOF_COLOR, dash: null, text: "{n|True ToF}" });
  entries.push({ col: 4, row: 0, color: INK, dash: null, text: "{n|With d}{i|E}{n|/d}{i|x}{n| (Si)}" });
  entries.push({ col: 4, row: 1, color: INK, dash: [3, 4.5], text: "{n|No d}{i|E}{n|/d}{i|x}{n| (Si)}" });
  LEGEND_SHIFT.forEach((shift) => {
    entries.forEach((e) => {
      const x0 = LEGEND_LINE_X[e.col] + shift;
      const y = LEGEND_ROW_Y[e.row];
      els.push({
        type: "line", silent: true,
        shape: { x1: x0, y1: y, x2: x0 + 20, y2: y },
        style: { stroke: e.color, lineWidth: 3, lineDash: e.dash || undefined },
      });
      els.push({
        type: "text", x: x0 + 30, y, silent: true,
        style: { text: e.text, rich: legRich, fontFamily: FONT, fontSize: 16, fill: INK, align: "left", textAlign: "left", verticalAlign: "middle", textVerticalAlign: "middle" },
      });
    });
  });
  return els;
}

function buildOption() {
  const grids: any[] = [];
  const xAxis: any[] = [];
  const yAxis: any[] = [];
  const series: any[] = [];
  PANELS.forEach((p, g) => {
    const r = panelRect(p);
    grids.push({ ...r, containLabel: false, outerBoundsMode: "none", show: false });
    const { xs, ys } = buildAxes(g, p);
    xAxis.push(...xs);
    yAxis.push(...ys);
    series.push(...buildSeries(g, p));
  });
  return {
    animation: false,
    backgroundColor: "#ffffff",
    textStyle: { fontFamily: FONT },
    grid: grids,
    xAxis,
    yAxis,
    series,
    graphic: buildGraphics(),
  };
}

export default function App() {
  const ref = useRef<HTMLDivElement>(null);
  useEffect(() => {
    document.body.style.margin = "0";
    const chart = echarts.init(ref.current as HTMLDivElement, undefined, { renderer: "svg" });
    chart.setOption(buildOption() as any);
    return () => chart.dispose();
  }, []);
  return <div ref={ref} style={{ width: 1379, height: 771 }} />;
}
